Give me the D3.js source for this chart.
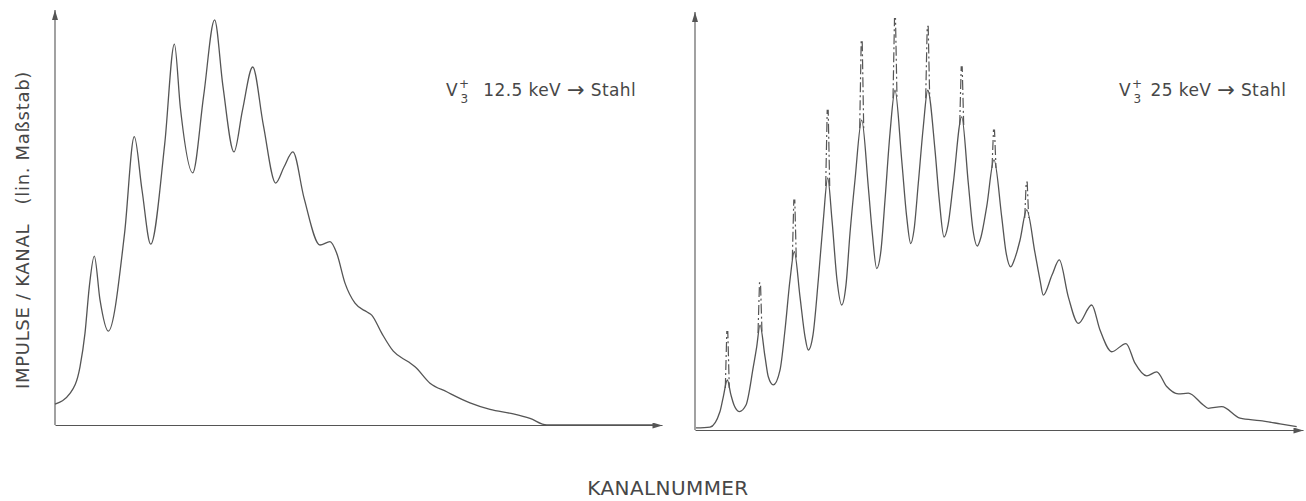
<!DOCTYPE html>
<html>
<head>
<meta charset="utf-8">
<script src="https://cdn.jsdelivr.net/npm/d3@7/dist/d3.min.js"></script>
<style>
  body { margin: 0; background: #fff; }
  svg { display: block; }
  text { font-family: "DejaVu Sans", sans-serif; fill: #474747; }
</style>
</head>
<body>
<div id="chart"></div>
<script>
'use strict';
// spectrum 12.5 keV (channel, counts)
var channelsLeft = [0, 15, 25, 30, 34.3, 39.3, 45, 53.3, 69.5, 79.3, 87, 95.7,
                    109.7, 119.4, 125.4, 137.7, 148.6, 159.6, 167.9, 179,
                    187.5, 197.7, 208.3, 220.7, 229, 237.9, 249, 265, 275, 281.7,
                    290, 300, 311.7, 316.7, 326.7, 338.3, 353.3, 360, 375, 391.7, 415, 435, 458.3,
                    475, 491.7, 600];
var countsLeft   = [51, 77, 142, 224, 337, 412, 305, 229, 466, 703, 573, 441,
                    685, 929, 773, 615, 802, 988, 827, 666,
                    768, 873, 732, 590, 629, 666, 554, 439, 447, 419,
                    346, 297, 276, 268, 224, 180, 154, 142, 102, 81, 54, 38, 27,
                    16, 0, 0];

// spectrum 25 keV (channel, counts)
var channelsRight = [1, 15, 25, 28.3, 32.3, 36, 39, 44.3, 51, 58.3, 61.7, 65, 70, 73.3, 78.3,
                     85, 90, 95, 99.3, 105, 110, 113.3, 118, 123.3, 128.3, 132.7, 137, 142, 146.7,
                     151, 155, 160, 166.7, 173.3, 177.3, 181.7, 186, 190, 195, 200, 206.7, 211.7, 215.7,
                     219, 223.3, 228.3, 232.7, 240, 244.3, 249, 253, 258.3, 266.7, 273.3, 278, 282.3,
                     286, 291.7, 299, 306.7, 311, 315.7, 320, 325, 331.7, 340, 345, 348.3,
                     357, 364.3, 373.3, 383.3, 396.7, 405, 416.7, 431, 440, 451.7, 461.7, 471.7, 483.3,
                     493.3, 508.3, 513.3, 526.7, 545, 565, 585, 601.7];
var countsRight   = [5, 7, 45, 81, 122, 85, 61, 45, 61, 154, 203, 256, 179, 130, 110,
                     146, 244, 366, 435, 325, 228, 195, 232, 366, 512, 615, 512, 366, 305,
                     354, 480, 610, 756, 593, 480, 394, 439, 561, 724, 829, 659, 520, 455,
                     488, 602, 740, 829, 683, 561, 471, 500, 602, 764, 602, 488, 449,
                     471, 545, 659, 520, 434, 398, 420, 463, 537, 432, 366, 329,
                     378, 415, 325, 260, 305, 244, 191, 211, 163, 132, 142, 106, 88,
                     90, 61, 53, 57, 29, 23, 15, 8];

// narrow (dashed) peaks on top of the 25 keV spectrum
var spikeChannels = [32.3, 65, 99.3, 132.7, 166.7, 200, 232.7, 266.7, 299, 331.7];
var spikeBase     = [122, 256, 435, 615, 756, 829, 829, 764, 659, 537];
var spikeTop      = [240, 359, 561, 780, 951, 1004, 985, 886, 732, 605];

var width = 1306, height = 501;
var ink = "#555";

var svg = d3.select("#chart").append("svg")
    .attr("width", width)
    .attr("height", height);

svg.append("defs").append("marker")
    .attr("id", "arrow")
    .attr("viewBox", "0 0 10 6")
    .attr("refX", 10).attr("refY", 3)
    .attr("markerWidth", 11).attr("markerHeight", 6)
    .attr("markerUnits", "userSpaceOnUse")
    .attr("orient", "auto")
    .append("path")
    .attr("d", "M0,0L10,3L0,6Z")
    .attr("fill", ink);

function panel(xr, yr, yMax, channels, counts) {
  var x = d3.scaleLinear().domain([0, xr[1] - xr[0]]).range(xr);
  var y = d3.scaleLinear().domain([0, yMax]).range(yr);

  var g = svg.append("g");
  var ax = g.append("g").attr("transform", "translate(0," + yr[0] + ")")
      .call(d3.axisBottom(x).ticks(0).tickSizeOuter(0));
  var ay = g.append("g").attr("transform", "translate(" + xr[0] + ",0)")
      .call(d3.axisLeft(y).ticks(0).tickSizeOuter(0));
  ax.select(".domain").attr("stroke", ink).attr("stroke-width", 1.1).attr("marker-end", "url(#arrow)");
  ay.select(".domain").attr("stroke", ink).attr("stroke-width", 1.1)
      .attr("d", "M0," + yr[0] + "V" + yr[1]).attr("marker-end", "url(#arrow)");

  var line = d3.line()
      .x(function(d) { return x(d[0]); })
      .y(function(d) { return y(d[1]); })
      .curve(d3.curveMonotoneX);

  g.append("path")
      .datum(d3.zip(channels, counts))
      .attr("d", line)
      .attr("fill", "none")
      .attr("stroke", ink)
      .attr("stroke-width", 1.3);

  return { x: x, y: y, g: g };
}

var left = panel([55, 662], [425, 10], 1012, channelsLeft, countsLeft);
var right = panel([695, 1303], [430, 12], 1020, channelsRight, countsRight);

// dashed narrow peaks
right.g.selectAll(".spike")
    .data(d3.range(spikeChannels.length))
    .enter().append("path")
    .attr("class", "spike")
    .attr("fill", "none")
    .attr("stroke", ink)
    .attr("stroke-width", 1.2)
    .attr("stroke-dasharray", "10,3,2,3")
    .attr("d", function(i) {
      var cx = right.x(spikeChannels[i]);
      var yb = right.y(spikeBase[i]) + 8;
      var yt = right.y(spikeTop[i]);
      return "M" + (cx - 2) + "," + yb + "L" + (cx - 0.5) + "," + yt +
             "L" + (cx + 0.5) + "," + yt + "L" + (cx + 2) + "," + yb;
    });

// labels
function ionLabel(x0, y0, energy) {
  var t = svg.append("text").attr("x", x0).attr("y", y0)
      .attr("font-size", 17).attr("letter-spacing", 0.4);
  t.append("tspan").text("V");
  t.append("tspan").attr("dx", 1).attr("dy", -8).attr("font-size", 12).text("+");
  t.append("tspan").attr("dx", -9).attr("dy", 15).attr("font-size", 12).text("3");
  t.append("tspan").attr("dy", -7).attr("dx", 9).text(energy + " ");
  t.append("tspan").attr("font-size", 21).attr("dy", 1).text("\u2192");
  t.append("tspan").attr("dy", -1).text(" Stahl");
}
ionLabel(446, 96, " 12.5 keV");
ionLabel(1119, 96, "25 keV");

svg.append("text")
    .attr("transform", "translate(29,230) rotate(-90)")
    .attr("text-anchor", "middle")
    .attr("font-size", 18)
    .attr("letter-spacing", 0.7)
    .attr("xml:space", "preserve")
    .text("IMPULSE / KANAL   (lin. Maßstab)");

svg.append("text")
    .attr("x", 668)
    .attr("y", 495)
    .attr("text-anchor", "middle")
    .attr("font-size", 20)
    .attr("letter-spacing", 0.4)
    .text("KANALNUMMER");
</script>
</body>
</html>
